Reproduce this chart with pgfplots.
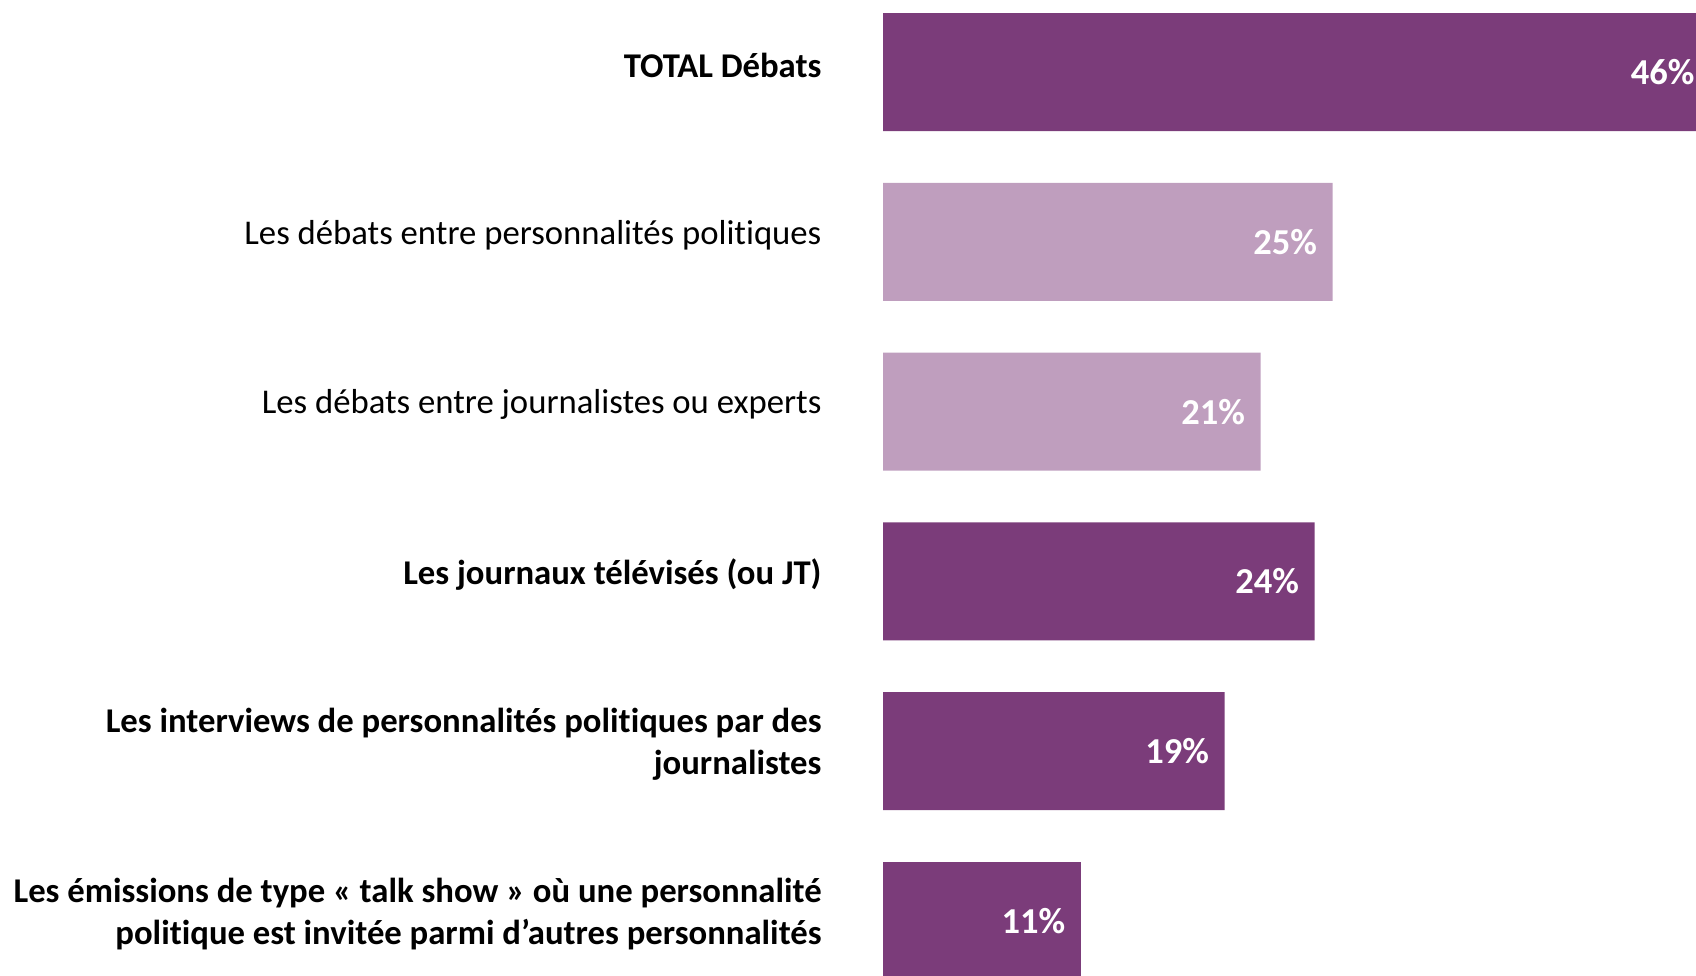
\documentclass[border=0pt]{standalone}
\usepackage{pgfplots}
\pgfplotsset{compat=1.18}
\usepackage{fontspec}
\setmainfont[Ligatures=NoCommon]{Carlito}
\definecolor{darkp}{HTML}{7B3C7A}
\definecolor{lightp}{HTML}{BF9EBE}
\begin{document}
\begin{tikzpicture}[x=1pt,y=1pt]
\path[use as bounding box] (0,-975) rectangle (1696,0);
\begin{axis}[
  at={(883pt,-72pt)}, anchor=origin,
  scale only axis,
  width=899pt, height=1018.8pt,
  xmin=0, xmax=50,
  ymin=-0.5, ymax=5.5,
  y dir=reverse,
  xbar, bar shift=0pt, bar width=118pt,
  axis line style={draw=none},
  hide x axis,
  ytick={0,1,2,3,4,5},
  yticklabels={
    {\textbf{TOTAL Débats}},
    {Les débats entre personnalités politiques},
    {Les débats entre journalistes ou experts},
    {\textbf{Les journaux télévisés (ou JT)}},
    {\textbf{Les interviews de personnalités politiques par des}\\\textbf{journalistes}},
    {\textbf{Les émissions de type « talk show » où une personnalité}\\\textbf{politique est invitée parmi d’autres personnalités}}
  },
  major tick length=0pt,
  yticklabel style={align=right, font=\fontsize{34.7}{41.5}\selectfont, text=black, anchor=east, xshift=-58pt, yshift=7pt},
  /pgf/number format/assume math mode=true,
  nodes near coords={\pgfmathprintnumber{\pgfplotspointmeta}\%},
  nodes near coords style={anchor=east, xshift=-12pt, text=white, font=\fontsize{36.5}{40}\selectfont\bfseries},
  clip=false,
]
\addplot[fill=darkp, draw=none] coordinates {(46,0) (24,3) (19,4) (11,5)};
\addplot[fill=lightp, draw=none] coordinates {(25,1) (21,2)};
\end{axis}
\end{tikzpicture}
\end{document}
